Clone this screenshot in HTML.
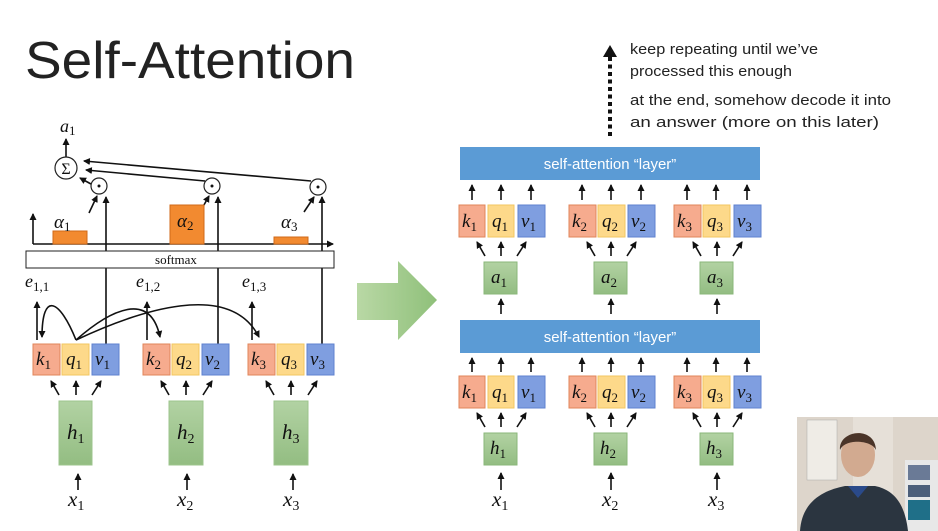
<!DOCTYPE html>
<html><head><meta charset="utf-8"><style>
html,body{margin:0;padding:0;background:#fff;}
svg{display:block;}
.m{font-family:"Liberation Serif",serif;font-style:italic;fill:#111;}
.s{font-family:"Liberation Serif",serif;font-style:normal;fill:#111;}
.t{font-family:"Liberation Sans",sans-serif;fill:#111;}
</style></head><body>
<svg width="938" height="531" viewBox="0 0 938 531" xmlns="http://www.w3.org/2000/svg">
<defs>
<marker id="ar" markerWidth="8" markerHeight="8" refX="6" refY="4" orient="auto" markerUnits="userSpaceOnUse"><path d="M0,0.5 L7,4 L0,7.5 z" fill="#111"/></marker>
<linearGradient id="gg" x1="0" y1="0" x2="0" y2="1"><stop offset="0" stop-color="#b2d2a3"/><stop offset="1" stop-color="#93bd82"/></linearGradient>
<linearGradient id="ga" x1="0" y1="0" x2="1" y2="0"><stop offset="0" stop-color="#b9d8a5"/><stop offset="1" stop-color="#8fc07a"/></linearGradient>
</defs>
<rect width="938" height="531" fill="#fff"/>
<text x="25" y="78" class="t" font-size="52" textLength="330" lengthAdjust="spacingAndGlyphs" style="fill:#222">Self-Attention</text>

<!-- LEFT diagram -->
<g stroke="#111" stroke-width="1.6" fill="none" marker-end="url(#ar)">
<line x1="78" y1="490" x2="78" y2="474"/><line x1="187" y1="490" x2="187" y2="474"/><line x1="293" y1="490" x2="293" y2="474"/>
<line x1="59" y1="395" x2="51" y2="381"/><line x1="76" y1="395" x2="76" y2="381"/><line x1="92" y1="395" x2="101" y2="381"/>
<line x1="169" y1="395" x2="161" y2="381"/><line x1="186" y1="395" x2="186" y2="381"/><line x1="203" y1="395" x2="212" y2="381"/>
<line x1="274" y1="395" x2="266" y2="381"/><line x1="291" y1="395" x2="291" y2="381"/><line x1="308" y1="395" x2="317" y2="381"/>
<line x1="37" y1="340" x2="37" y2="302"/><line x1="147" y1="340" x2="147" y2="302"/><line x1="252" y1="340" x2="252" y2="302"/>
<line x1="106" y1="344" x2="106" y2="197"/><line x1="218" y1="344" x2="218" y2="197"/><line x1="322" y1="344" x2="322" y2="197"/>
<path d="M76,340 C60,300 42,290 42,337"/>
<path d="M76,340 C110,310 150,290 160,337"/>
<path d="M76,340 C140,310 230,280 259,337"/>
<line x1="89" y1="213" x2="97" y2="196"/><line x1="200" y1="212" x2="209" y2="196"/><line x1="304" y1="212" x2="314" y2="197"/>
<line x1="91" y1="184" x2="80" y2="178"/>
<line x1="205" y1="181" x2="86" y2="170"/>
<line x1="311" y1="181" x2="84" y2="161"/>
<line x1="66" y1="157" x2="66" y2="139"/>
<line x1="33" y1="244" x2="333" y2="244"/>
<line x1="33" y1="244" x2="33" y2="214"/>
</g>
<rect x="53" y="231" width="34" height="13" fill="#f28a30" stroke="#d06a18"/>
<rect x="170" y="205" width="34" height="39" fill="#f28a30" stroke="#d06a18"/>
<rect x="274" y="237" width="34" height="7" fill="#f28a30" stroke="#d06a18"/>
<text x="54" y="228" class="m" font-size="19">α<tspan font-size="13" dy="3" font-style="normal">1</tspan></text>
<text x="177" y="227" class="m" font-size="19">α<tspan font-size="13" dy="3" font-style="normal">2</tspan></text>
<text x="281" y="228" class="m" font-size="19">α<tspan font-size="13" dy="3" font-style="normal">3</tspan></text>
<rect x="26" y="251" width="308" height="17" fill="#fff" stroke="#222" stroke-width="1"/>
<text x="176" y="264" class="s" font-size="13" text-anchor="middle">softmax</text>
<text x="25" y="287" class="m" font-size="18">e<tspan font-size="13" dy="4" font-style="normal">1,1</tspan></text>
<text x="136" y="287" class="m" font-size="18">e<tspan font-size="13" dy="4" font-style="normal">1,2</tspan></text>
<text x="242" y="287" class="m" font-size="18">e<tspan font-size="13" dy="4" font-style="normal">1,3</tspan></text>
<g fill="#fff" stroke="#222" stroke-width="1.2">
<circle cx="66" cy="168" r="11"/><circle cx="99" cy="186" r="8"/><circle cx="212" cy="186" r="8"/><circle cx="318" cy="187" r="8"/>
</g>
<text x="66" y="174" class="s" font-size="16" text-anchor="middle">Σ</text>
<circle cx="99" cy="186" r="1.5" fill="#111"/><circle cx="212" cy="186" r="1.5" fill="#111"/><circle cx="318" cy="187" r="1.5" fill="#111"/>
<text x="60" y="132" class="m" font-size="18">a<tspan font-size="13" dy="3" font-style="normal">1</tspan></text>

<g font-size="19">
<g>
<rect x="33" y="344" width="27" height="31" fill="#f6ab8e" stroke="#e0855a"/><rect x="62" y="344" width="27" height="31" fill="#fdd98a" stroke="#f2c660"/><rect x="92" y="344" width="27" height="31" fill="#7f9ee0" stroke="#5f82cf"/>
<rect x="143" y="344" width="27" height="31" fill="#f6ab8e" stroke="#e0855a"/><rect x="172" y="344" width="27" height="31" fill="#fdd98a" stroke="#f2c660"/><rect x="202" y="344" width="27" height="31" fill="#7f9ee0" stroke="#5f82cf"/>
<rect x="248" y="344" width="27" height="31" fill="#f6ab8e" stroke="#e0855a"/><rect x="277" y="344" width="27" height="31" fill="#fdd98a" stroke="#f2c660"/><rect x="307" y="344" width="27" height="31" fill="#7f9ee0" stroke="#5f82cf"/>
</g>
<text x="36" y="365" class="m">k<tspan font-size="13" dy="4" font-style="normal">1</tspan></text>
<text x="66" y="365" class="m">q<tspan font-size="13" dy="4" font-style="normal">1</tspan></text>
<text x="95" y="365" class="m">v<tspan font-size="13" dy="4" font-style="normal">1</tspan></text>
<text x="146" y="365" class="m">k<tspan font-size="13" dy="4" font-style="normal">2</tspan></text>
<text x="176" y="365" class="m">q<tspan font-size="13" dy="4" font-style="normal">2</tspan></text>
<text x="205" y="365" class="m">v<tspan font-size="13" dy="4" font-style="normal">2</tspan></text>
<text x="251" y="365" class="m">k<tspan font-size="13" dy="4" font-style="normal">3</tspan></text>
<text x="281" y="365" class="m">q<tspan font-size="13" dy="4" font-style="normal">3</tspan></text>
<text x="310" y="365" class="m">v<tspan font-size="13" dy="4" font-style="normal">3</tspan></text>
</g>
<rect x="59" y="401" width="33" height="64" fill="url(#gg)" stroke="#9cc48c"/>
<rect x="169" y="401" width="34" height="64" fill="url(#gg)" stroke="#9cc48c"/>
<rect x="274" y="401" width="34" height="64" fill="url(#gg)" stroke="#9cc48c"/>
<text x="67" y="439" class="m" font-size="21">h<tspan font-size="14" dy="4" font-style="normal">1</tspan></text>
<text x="177" y="439" class="m" font-size="21">h<tspan font-size="14" dy="4" font-style="normal">2</tspan></text>
<text x="282" y="439" class="m" font-size="21">h<tspan font-size="14" dy="4" font-style="normal">3</tspan></text>
<text x="68" y="506" class="m" font-size="21">x<tspan font-size="14" dy="4" font-style="normal">1</tspan></text>
<text x="177" y="506" class="m" font-size="21">x<tspan font-size="14" dy="4" font-style="normal">2</tspan></text>
<text x="283" y="506" class="m" font-size="21">x<tspan font-size="14" dy="4" font-style="normal">3</tspan></text>

<path d="M357,283 L398,283 L398,261 L437,300 L398,340 L398,320 L357,320 Z" fill="url(#ga)"/>

<rect x="460" y="147" width="300" height="33" fill="#5b9bd5"/>
<text x="610" y="169" class="t" font-size="15" style="fill:#fff" text-anchor="middle">self-attention “layer”</text>
<rect x="460" y="320" width="300" height="33" fill="#5b9bd5"/>
<text x="610" y="342" class="t" font-size="15" style="fill:#fff" text-anchor="middle">self-attention “layer”</text>

<line x1="610" y1="57" x2="610" y2="136" stroke="#111" stroke-width="4" stroke-dasharray="4,3.5"/>
<path d="M603,57 L610,45 L617,57 Z" fill="#111"/>
<g class="t" font-size="15" style="fill:#222">
<text x="630" y="54" textLength="188" lengthAdjust="spacingAndGlyphs">keep repeating until we’ve</text>
<text x="630" y="76" textLength="162" lengthAdjust="spacingAndGlyphs">processed this enough</text>
<text x="630" y="105" textLength="261" lengthAdjust="spacingAndGlyphs">at the end, somehow decode it into</text>
<text x="630" y="127" textLength="249" lengthAdjust="spacingAndGlyphs">an answer (more on this later)</text>
</g>

<g stroke="#111" stroke-width="1.6" fill="none" marker-end="url(#ar)">
<line x1="472" y1="200" x2="472" y2="185"/><line x1="501" y1="200" x2="501" y2="185"/><line x1="531" y1="200" x2="531" y2="185"/>
<line x1="582" y1="200" x2="582" y2="185"/><line x1="611" y1="200" x2="611" y2="185"/><line x1="641" y1="200" x2="641" y2="185"/>
<line x1="687" y1="200" x2="687" y2="185"/><line x1="716" y1="200" x2="716" y2="185"/><line x1="747" y1="200" x2="747" y2="185"/>
<line x1="485" y1="256" x2="477" y2="242"/><line x1="501" y1="256" x2="501" y2="242"/><line x1="517" y1="256" x2="526" y2="242"/>
<line x1="595" y1="256" x2="587" y2="242"/><line x1="611" y1="256" x2="611" y2="242"/><line x1="627" y1="256" x2="636" y2="242"/>
<line x1="701" y1="256" x2="693" y2="242"/><line x1="717" y1="256" x2="717" y2="242"/><line x1="733" y1="256" x2="742" y2="242"/>
<line x1="501" y1="314" x2="501" y2="299"/><line x1="611" y1="314" x2="611" y2="299"/><line x1="717" y1="314" x2="717" y2="299"/>
<line x1="472" y1="372" x2="472" y2="358"/><line x1="501" y1="372" x2="501" y2="358"/><line x1="531" y1="372" x2="531" y2="358"/>
<line x1="582" y1="372" x2="582" y2="358"/><line x1="611" y1="372" x2="611" y2="358"/><line x1="641" y1="372" x2="641" y2="358"/>
<line x1="687" y1="372" x2="687" y2="358"/><line x1="716" y1="372" x2="716" y2="358"/><line x1="747" y1="372" x2="747" y2="358"/>
<line x1="485" y1="427" x2="477" y2="413"/><line x1="501" y1="427" x2="501" y2="413"/><line x1="517" y1="427" x2="526" y2="413"/>
<line x1="595" y1="427" x2="587" y2="413"/><line x1="611" y1="427" x2="611" y2="413"/><line x1="627" y1="427" x2="636" y2="413"/>
<line x1="701" y1="427" x2="693" y2="413"/><line x1="717" y1="427" x2="717" y2="413"/><line x1="733" y1="427" x2="742" y2="413"/>
<line x1="501" y1="490" x2="501" y2="473"/><line x1="611" y1="490" x2="611" y2="473"/><line x1="717" y1="490" x2="717" y2="473"/>
</g>

<g>
<rect x="459" y="205" width="26" height="32" fill="#f6ab8e" stroke="#e0855a"/><rect x="488" y="205" width="26" height="32" fill="#fdd98a" stroke="#f2c660"/><rect x="518" y="205" width="27" height="32" fill="#7f9ee0" stroke="#5f82cf"/>
<rect x="569" y="205" width="27" height="32" fill="#f6ab8e" stroke="#e0855a"/><rect x="598" y="205" width="27" height="32" fill="#fdd98a" stroke="#f2c660"/><rect x="628" y="205" width="27" height="32" fill="#7f9ee0" stroke="#5f82cf"/>
<rect x="674" y="205" width="27" height="32" fill="#f6ab8e" stroke="#e0855a"/><rect x="703" y="205" width="27" height="32" fill="#fdd98a" stroke="#f2c660"/><rect x="734" y="205" width="27" height="32" fill="#7f9ee0" stroke="#5f82cf"/>
<rect x="459" y="376" width="26" height="32" fill="#f6ab8e" stroke="#e0855a"/><rect x="488" y="376" width="26" height="32" fill="#fdd98a" stroke="#f2c660"/><rect x="518" y="376" width="27" height="32" fill="#7f9ee0" stroke="#5f82cf"/>
<rect x="569" y="376" width="27" height="32" fill="#f6ab8e" stroke="#e0855a"/><rect x="598" y="376" width="27" height="32" fill="#fdd98a" stroke="#f2c660"/><rect x="628" y="376" width="27" height="32" fill="#7f9ee0" stroke="#5f82cf"/>
<rect x="674" y="376" width="27" height="32" fill="#f6ab8e" stroke="#e0855a"/><rect x="703" y="376" width="27" height="32" fill="#fdd98a" stroke="#f2c660"/><rect x="734" y="376" width="27" height="32" fill="#7f9ee0" stroke="#5f82cf"/>
</g>
<g font-size="19">
<text x="462" y="227" class="m">k<tspan font-size="13" dy="4" font-style="normal">1</tspan></text>
<text x="492" y="227" class="m">q<tspan font-size="13" dy="4" font-style="normal">1</tspan></text>
<text x="521" y="227" class="m">v<tspan font-size="13" dy="4" font-style="normal">1</tspan></text>
<text x="572" y="227" class="m">k<tspan font-size="13" dy="4" font-style="normal">2</tspan></text>
<text x="602" y="227" class="m">q<tspan font-size="13" dy="4" font-style="normal">2</tspan></text>
<text x="631" y="227" class="m">v<tspan font-size="13" dy="4" font-style="normal">2</tspan></text>
<text x="677" y="227" class="m">k<tspan font-size="13" dy="4" font-style="normal">3</tspan></text>
<text x="707" y="227" class="m">q<tspan font-size="13" dy="4" font-style="normal">3</tspan></text>
<text x="737" y="227" class="m">v<tspan font-size="13" dy="4" font-style="normal">3</tspan></text>
<text x="462" y="398" class="m">k<tspan font-size="13" dy="4" font-style="normal">1</tspan></text>
<text x="492" y="398" class="m">q<tspan font-size="13" dy="4" font-style="normal">1</tspan></text>
<text x="521" y="398" class="m">v<tspan font-size="13" dy="4" font-style="normal">1</tspan></text>
<text x="572" y="398" class="m">k<tspan font-size="13" dy="4" font-style="normal">2</tspan></text>
<text x="602" y="398" class="m">q<tspan font-size="13" dy="4" font-style="normal">2</tspan></text>
<text x="631" y="398" class="m">v<tspan font-size="13" dy="4" font-style="normal">2</tspan></text>
<text x="677" y="398" class="m">k<tspan font-size="13" dy="4" font-style="normal">3</tspan></text>
<text x="707" y="398" class="m">q<tspan font-size="13" dy="4" font-style="normal">3</tspan></text>
<text x="737" y="398" class="m">v<tspan font-size="13" dy="4" font-style="normal">3</tspan></text>
</g>
<rect x="484" y="262" width="33" height="32" fill="url(#gg)" stroke="#8ab77a"/>
<rect x="594" y="262" width="33" height="32" fill="url(#gg)" stroke="#8ab77a"/>
<rect x="700" y="262" width="33" height="32" fill="url(#gg)" stroke="#8ab77a"/>
<text x="491" y="283" class="m" font-size="19">a<tspan font-size="13" dy="4" font-style="normal">1</tspan></text>
<text x="601" y="283" class="m" font-size="19">a<tspan font-size="13" dy="4" font-style="normal">2</tspan></text>
<text x="707" y="283" class="m" font-size="19">a<tspan font-size="13" dy="4" font-style="normal">3</tspan></text>
<rect x="484" y="433" width="33" height="32" fill="url(#gg)" stroke="#8ab77a"/>
<rect x="594" y="433" width="33" height="32" fill="url(#gg)" stroke="#8ab77a"/>
<rect x="700" y="433" width="33" height="32" fill="url(#gg)" stroke="#8ab77a"/>
<text x="490" y="454" class="m" font-size="19">h<tspan font-size="13" dy="4" font-style="normal">1</tspan></text>
<text x="600" y="454" class="m" font-size="19">h<tspan font-size="13" dy="4" font-style="normal">2</tspan></text>
<text x="706" y="454" class="m" font-size="19">h<tspan font-size="13" dy="4" font-style="normal">3</tspan></text>
<text x="492" y="506" class="m" font-size="21">x<tspan font-size="14" dy="4" font-style="normal">1</tspan></text>
<text x="602" y="506" class="m" font-size="21">x<tspan font-size="14" dy="4" font-style="normal">2</tspan></text>
<text x="708" y="506" class="m" font-size="21">x<tspan font-size="14" dy="4" font-style="normal">3</tspan></text>

<g>
<rect x="797" y="417" width="141" height="114" fill="#ddd5cb"/>
<rect x="853" y="417" width="40" height="80" fill="#e6e0d8"/>
<rect x="807" y="420" width="30" height="60" fill="#efece6" stroke="#aaa" stroke-width="0.5"/>
<rect x="905" y="460" width="33" height="71" fill="#e8e8e8"/>
<rect x="908" y="465" width="22" height="15" fill="#6a7a96"/>
<rect x="908" y="485" width="22" height="12" fill="#4d5f7a"/>
<rect x="908" y="500" width="22" height="20" fill="#1f6f88"/>
<ellipse cx="858" cy="455" rx="17" ry="22" fill="#d2aa90"/>
<path d="M840,450 C838,430 875,425 876,450 C872,440 845,438 840,450 Z" fill="#4a3428"/>
<path d="M800,531 C802,500 825,490 845,486 L875,486 C895,490 905,505 908,531 Z" fill="#2b3540"/>
<path d="M848,486 L858,498 L868,486 Z" fill="#2a4a8a"/>
</g>
</svg>
</body></html>
